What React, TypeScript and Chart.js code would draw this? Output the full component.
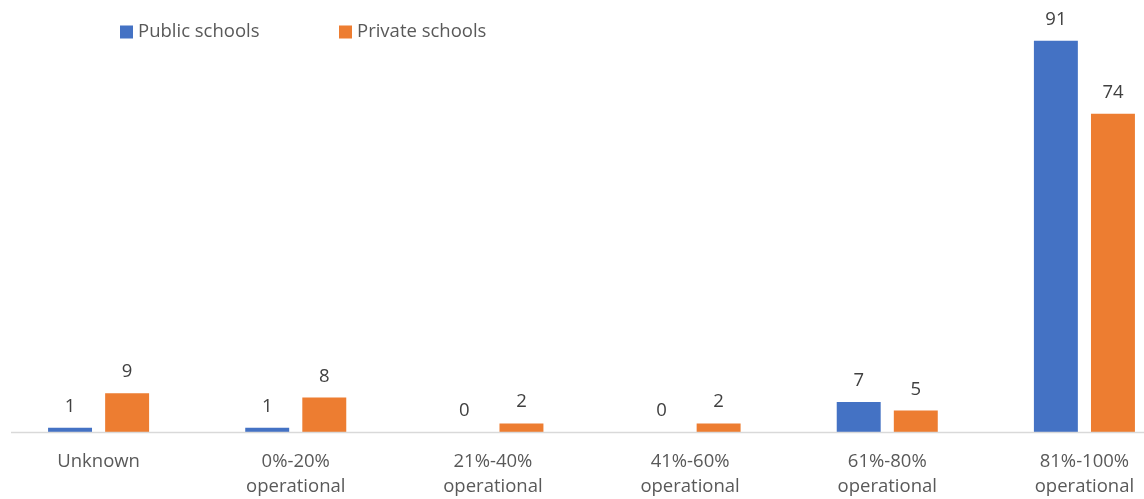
import React, { useEffect, useRef } from "react";
import { Chart, registerables } from "chart.js";

Chart.register(...registerables);

const categories: string[][] = [
  ["Unknown"],
  ["0%-20%", "operational"],
  ["21%-40%", "operational"],
  ["41%-60%", "operational"],
  ["61%-80%", "operational"],
  ["81%-100%", "operational"],
];
const publicSchools = [1, 1, 0, 0, 7, 91];
const privateSchools = [9, 8, 2, 2, 5, 74];
const seriesNames = ["Public schools", "Private schools"];
const seriesColors = ["#4472C4", "#ED7D31"];

const FONT = "'Open Sans', 'Noto Sans', sans-serif";
const FS = 18.5;

const overlayPlugin = {
  id: "overlay",
  afterDatasetsDraw(chart: any) {
    const ctx = chart.ctx;
    const area = chart.chartArea;
    ctx.save();
    // axis line
    ctx.strokeStyle = "#D9D9D9";
    ctx.lineWidth = 1.5;
    ctx.beginPath();
    ctx.moveTo(11, area.bottom + 0.5);
    ctx.lineTo(area.right, area.bottom + 0.5);
    ctx.stroke();
    // data labels
    ctx.fillStyle = "#404040";
    ctx.font = `${FS}px ${FONT}`;
    ctx.textAlign = "center";
    ctx.textBaseline = "alphabetic";
    chart.data.datasets.forEach((ds: any, i: number) => {
      const meta = chart.getDatasetMeta(i);
      meta.data.forEach((bar: any, j: number) => {
        ctx.fillText(String(ds.data[j]), bar.x, bar.y - 16);
      });
    });
    // legend
    const legendX = [120, 339];
    ctx.textAlign = "left";
    ctx.textBaseline = "middle";
    seriesNames.forEach((name, i) => {
      ctx.fillStyle = seriesColors[i];
      ctx.fillRect(legendX[i], 25.5, 13, 13);
      ctx.fillStyle = "#595959";
      ctx.fillText(name, legendX[i] + 18, 32);
    });
    ctx.restore();
  },
};

export default function App() {
  const ref = useRef<HTMLCanvasElement>(null);
  useEffect(() => {
    if (!ref.current) return;
    const chart = new Chart(ref.current, {
      type: "bar",
      data: {
        labels: categories,
        datasets: [
          {
            label: seriesNames[0],
            data: publicSchools,
            backgroundColor: seriesColors[0],
            categoryPercentage: 0.579,
            barPercentage: 0.77,
          },
          {
            label: seriesNames[1],
            data: privateSchools,
            backgroundColor: seriesColors[1],
            categoryPercentage: 0.579,
            barPercentage: 0.77,
          },
        ],
      },
      options: {
        responsive: false,
        animation: false,
        devicePixelRatio: 1,
        layout: { padding: { top: 2, left: 0, right: 0, bottom: 0 } },
        plugins: {
          legend: { display: false },
          tooltip: { enabled: false },
        },
        scales: {
          x: {
            offset: true,
            grid: { display: false, drawTicks: false },
            border: { display: false },
            ticks: {
              color: "#595959",
              font: { family: FONT, size: FS, lineHeight: 25 / FS },
              padding: 17,
              maxRotation: 0,
              autoSkip: false,
            },
            afterFit: (scale: any) => {
              scale.height = 67;
            },
          },
          y: {
            display: false,
            min: 0,
            max: 100,
          },
        },
      },
      plugins: [overlayPlugin],
    });
    return () => chart.destroy();
  }, []);
  return (
    <div
      style={{
        position: "fixed",
        left: 0,
        top: 0,
        width: 1144,
        height: 499,
        overflow: "hidden",
        background: "#fff",
      }}
    >
      <canvas ref={ref} width={1183} height={499} style={{ display: "block" }} />
    </div>
  );
}
